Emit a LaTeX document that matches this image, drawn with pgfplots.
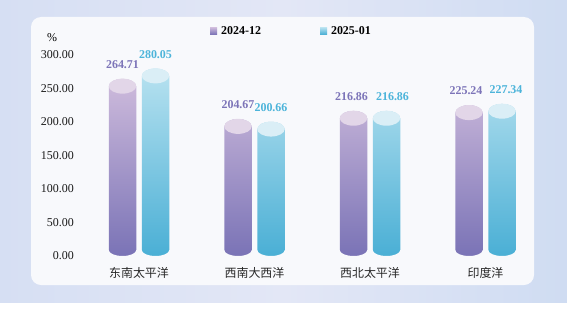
\documentclass[border=0pt]{standalone}
\usepackage{pgfplots}
\pgfplotsset{compat=1.18}
\usepackage{pgfplotstable}
\usepackage{fontspec}
\setmainfont{Liberation Serif}
\newfontfamily\cjk{Noto Sans CJK SC}

\definecolor{pTop}{HTML}{CEBBDC}
\definecolor{pBot}{HTML}{7A73B6}
\definecolor{cTop}{HTML}{B8E2F0}
\definecolor{cBot}{HTML}{4AAFD5}
\definecolor{pCap}{HTML}{E2D6E8}
\definecolor{cCap}{HTML}{DAEEF6}
\definecolor{panel}{HTML}{F8F9FC}
\definecolor{pLab}{HTML}{7C74B8}
\definecolor{cLab}{HTML}{4CB4DA}
\definecolor{bgL}{HTML}{D6DFF3}
\definecolor{bgM}{HTML}{E3E7F6}
\definecolor{bgR}{HTML}{CFDCF2}

\pgfdeclareplotmark{capbot}{%
  \pgfpathmoveto{\pgfqpoint{-14.5bp}{6bp}}%
  \pgfpathlineto{\pgfqpoint{-14.5bp}{-0.8bp}}%
  \pgfpathlineto{\pgfqpoint{14.5bp}{-0.8bp}}%
  \pgfpathlineto{\pgfqpoint{14.5bp}{6bp}}%
  \pgfpathlineto{\pgfqpoint{13.75bp}{6bp}}%
  \pgfpatharc{0}{-180}{13.75bp and 6bp}%
  \pgfpathclose
  \pgfsetfillcolor{panel}\pgfusepath{fill}%
}
\pgfdeclareplotmark{captopP}{%
  \pgfpathmoveto{\pgfqpoint{-14.5bp}{-7.5bp}}%
  \pgfpathlineto{\pgfqpoint{-14.5bp}{0.8bp}}%
  \pgfpathlineto{\pgfqpoint{14.5bp}{0.8bp}}%
  \pgfpathlineto{\pgfqpoint{14.5bp}{-7.5bp}}%
  \pgfpathlineto{\pgfqpoint{13.75bp}{-7.5bp}}%
  \pgfpatharc{0}{180}{13.75bp and 7.5bp}%
  \pgfpathclose
  \pgfsetfillcolor{panel}\pgfusepath{fill}%
  \pgfpathellipse{\pgfqpoint{0bp}{-7.5bp}}{\pgfqpoint{13.75bp}{0bp}}{\pgfqpoint{0bp}{7.5bp}}%
  \pgfsetfillcolor{pCap}\pgfusepath{fill}%
}
\pgfdeclareplotmark{captopC}{%
  \pgfpathmoveto{\pgfqpoint{-14.5bp}{-7.5bp}}%
  \pgfpathlineto{\pgfqpoint{-14.5bp}{0.8bp}}%
  \pgfpathlineto{\pgfqpoint{14.5bp}{0.8bp}}%
  \pgfpathlineto{\pgfqpoint{14.5bp}{-7.5bp}}%
  \pgfpathlineto{\pgfqpoint{13.75bp}{-7.5bp}}%
  \pgfpatharc{0}{180}{13.75bp and 7.5bp}%
  \pgfpathclose
  \pgfsetfillcolor{panel}\pgfusepath{fill}%
  \pgfpathellipse{\pgfqpoint{0bp}{-7.5bp}}{\pgfqpoint{13.75bp}{0bp}}{\pgfqpoint{0bp}{7.5bp}}%
  \pgfsetfillcolor{cCap}\pgfusepath{fill}%
}

% dx: horizontal offset (bp) of the value label
\pgfplotstableread{
x v dx
0 264.71 0
1 204.67 0
2 216.86 -2
3 225.24 -3
}\dataP
\pgfplotstableread{
x v dx
0 280.05 0
1 200.66 0
2 216.86 6
3 227.34 4
}\dataC

\begin{document}
\begin{tikzpicture}[x=1bp,y=1bp]
\useasboundingbox (0,0) rectangle (567,311);
\fill[white] (0,0) rectangle (567,311);
\shade[left color=bgL, right color=bgR, middle color=bgM] (0,9) rectangle (567,311);
\fill[panel, rounded corners=10bp] (31,26) rectangle (534,294);
\begin{axis}[
  at={(81.25bp,55bp)}, anchor=south west,
  scale only axis, width=462bp, height=201bp,
  xmin=-0.5, xmax=3.5, ymin=0, ymax=300,
  clip=false,
  axis line style={draw=none},
  major tick length=0pt,
  xtick={0,1,2,3},
  xticklabels={东南太平洋,西南大西洋,西北太平洋,印度洋},
  xticklabel style={font=\cjk\fontsize{12}{14}\selectfont, text=black!85, yshift=-8bp},
  ytick={0,50,100,150,200,250,300},
  yticklabel style={font=\fontsize{12}{14}\selectfont, text=black!90, xshift=-4bp},
  /pgf/number format/.cd, fixed, fixed zerofill, precision=2, assume math mode=true,
  /pgfplots/.cd,
  ylabel={\%},
  every axis y label/.style={at={(rel axis cs:-0.0633,1.0846)}, anchor=center, font=\fontsize{12}{14}\selectfont},
  legend columns=2,
  legend style={at={(rel axis cs:0.2787,1.12)}, anchor=west, draw=none, fill=none,
    font=\bfseries\fontsize{12}{14}\selectfont, inner sep=0pt,
    /tikz/every even column/.style={column sep=57bp}},
  nodes near coords style={font=\bfseries\fontsize{12}{14}\selectfont, anchor=center, yshift=14bp},
]
\addplot[ybar, bar width=27.5bp, bar shift=0pt, draw=none, top color=pTop, bottom color=pBot,
  legend image code/.code={\fill[pBot!75!pTop] (0bp,-3.5bp) rectangle (7bp,3.5bp);\path (9bp,0bp);}]
  table[x expr=\thisrow{x}-0.142857, y=v]{\dataP};
\addlegendentry{2024-12}
\addplot[ybar, bar width=27.5bp, bar shift=0pt, draw=none, top color=cTop, bottom color=cBot,
  legend image code/.code={\fill[cBot!75!cTop] (0bp,-3.5bp) rectangle (7bp,3.5bp);\path (9bp,0bp);}]
  table[x expr=\thisrow{x}+0.142857, y=v]{\dataC};
\addlegendentry{2025-01}
\addplot[only marks, mark=capbot, forget plot] table[x expr=\thisrow{x}-0.142857, y expr=0]{\dataP};
\addplot[only marks, mark=capbot, forget plot] table[x expr=\thisrow{x}+0.142857, y expr=0]{\dataC};
\addplot[only marks, mark=captopP, forget plot, nodes near coords,
  visualization depends on={\thisrow{dx} \as \dx},
  nodes near coords style={text=pLab, xshift=\dx bp}] table[x expr=\thisrow{x}-0.142857, y=v]{\dataP};
\addplot[only marks, mark=captopC, forget plot, nodes near coords,
  visualization depends on={\thisrow{dx} \as \dx},
  nodes near coords style={text=cLab, xshift=\dx bp}] table[x expr=\thisrow{x}+0.142857, y=v]{\dataC};
\end{axis}
\end{tikzpicture}
\end{document}
